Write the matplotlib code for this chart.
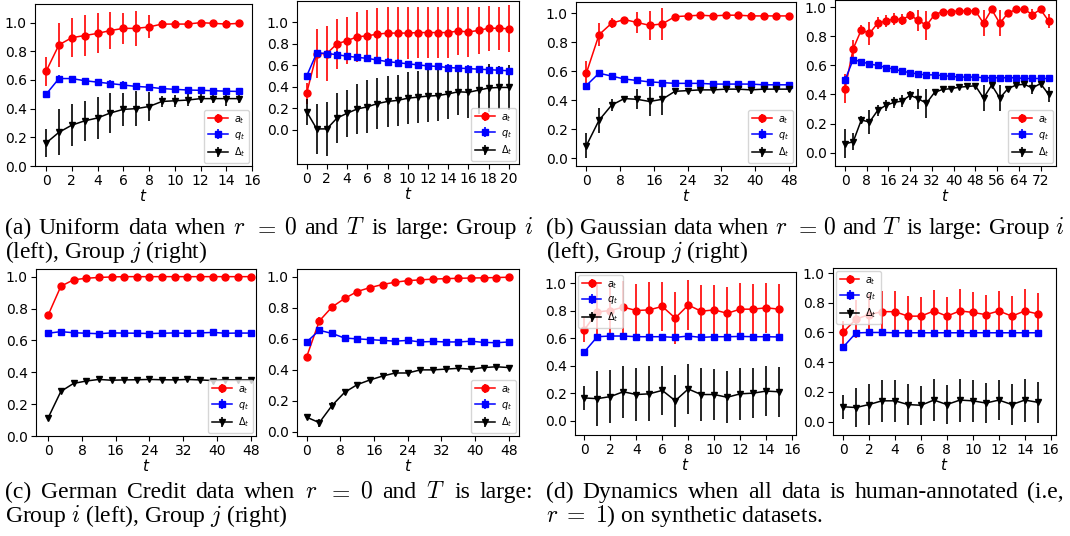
import matplotlib
matplotlib.use("Agg")
import matplotlib.pyplot as plt
import numpy as np

W, H = 1070, 536

# ---- (a) uniform data, r = 0 ----
unif_i_t = list(range(16))
unif_i_a = [0.66, 0.845, 0.895, 0.91, 0.925, 0.945, 0.96, 0.96, 0.97, 0.99, 0.99, 0.99, 1.0, 0.995, 0.99, 0.995]
unif_i_a_err = [0.1, 0.155, 0.135, 0.14, 0.14, 0.13, 0.11, 0.12, 0.08, 0.03, 0.03, 0.03, 0.01, 0.01, 0.03, 0.01]
unif_i_q = [0.5, 0.61, 0.61, 0.595, 0.585, 0.575, 0.565, 0.555, 0.55, 0.54, 0.535, 0.53, 0.528, 0.525, 0.522, 0.52]
unif_i_q_err = [0.0, 0.025, 0.02, 0.02, 0.02, 0.025, 0.025, 0.025, 0.02, 0.02, 0.02, 0.02, 0.02, 0.02, 0.02, 0.02]
unif_i_d = [0.16, 0.235, 0.285, 0.315, 0.335, 0.37, 0.395, 0.40, 0.415, 0.45, 0.455, 0.46, 0.47, 0.47, 0.47, 0.47]
unif_i_d_err = [0.1, 0.16, 0.145, 0.14, 0.145, 0.14, 0.115, 0.12, 0.1, 0.04, 0.04, 0.04, 0.03, 0.03, 0.05, 0.03]

unif_j_t = list(range(21))
unif_j_a = [0.34, 0.71, 0.71, 0.80, 0.83, 0.865, 0.875, 0.89, 0.90, 0.90, 0.90, 0.905, 0.905, 0.905, 0.905,
            0.92, 0.91, 0.925, 0.945, 0.945, 0.94]
unif_j_a_err = [0.1, 0.23, 0.255, 0.23, 0.22, 0.23, 0.24, 0.245, 0.24, 0.24, 0.24, 0.24, 0.235, 0.24, 0.24,
                0.22, 0.23, 0.22, 0.21, 0.2, 0.22]
unif_j_q = [0.50, 0.715, 0.71, 0.70, 0.685, 0.675, 0.665, 0.65, 0.635, 0.625, 0.615, 0.605, 0.595, 0.59, 0.58,
            0.575, 0.57, 0.565, 0.56, 0.555, 0.55]
unif_j_q_err = [0.0, 0.03, 0.03, 0.03, 0.03, 0.03, 0.03, 0.03, 0.03, 0.03, 0.03, 0.03, 0.03, 0.03, 0.03,
                0.03, 0.03, 0.03, 0.03, 0.03, 0.03]
unif_j_d = [0.17, 0.01, 0.01, 0.11, 0.155, 0.195, 0.215, 0.245, 0.265, 0.275, 0.295, 0.305, 0.315, 0.32, 0.335,
            0.355, 0.35, 0.37, 0.39, 0.395, 0.395]
unif_j_d_err = [0.12, 0.23, 0.25, 0.23, 0.22, 0.23, 0.245, 0.24, 0.24, 0.24, 0.24, 0.24, 0.24, 0.24, 0.235,
                0.22, 0.24, 0.22, 0.22, 0.2, 0.21]

# ---- (b) gaussian data, r = 0 ----
gauss_i_t = list(range(0, 49, 3))
gauss_i_a = [0.585, 0.85, 0.93, 0.955, 0.935, 0.915, 0.925, 0.975, 0.98, 0.985, 0.98, 0.985, 0.985, 0.98, 0.98, 0.98, 0.98]
gauss_i_a_err = [0.085, 0.08, 0.035, 0.015, 0.07, 0.1, 0.11, 0.015, 0.015, 0.01, 0.015, 0.01, 0.01, 0.03, 0.02, 0.015, 0.02]
gauss_i_q = [0.50, 0.585, 0.565, 0.545, 0.535, 0.525, 0.52, 0.515, 0.515, 0.515, 0.51, 0.51, 0.51, 0.51, 0.505, 0.505, 0.505]
gauss_i_q_err = [0.0, 0.015, 0.015, 0.01, 0.01, 0.01, 0.01, 0.01, 0.01, 0.01, 0.01, 0.01, 0.01, 0.01, 0.01, 0.01, 0.01]
gauss_i_d = [0.085, 0.26, 0.365, 0.41, 0.405, 0.39, 0.405, 0.46, 0.465, 0.47, 0.47, 0.475, 0.475, 0.47, 0.475, 0.475, 0.475]
gauss_i_d_err = [0.085, 0.085, 0.04, 0.02, 0.07, 0.1, 0.11, 0.02, 0.015, 0.015, 0.015, 0.015, 0.015, 0.03, 0.02, 0.015, 0.02]

gauss_j_t = list(range(0, 76, 3))
gauss_j_a = [0.44, 0.715, 0.845, 0.82, 0.89, 0.905, 0.92, 0.915, 0.945, 0.91, 0.875, 0.95, 0.97, 0.97, 0.975,
             0.975, 0.975, 0.89, 0.985, 0.89, 0.96, 0.985, 0.985, 0.95, 0.985, 0.905]
gauss_j_a_err = [0.1, 0.06, 0.03, 0.08, 0.04, 0.04, 0.04, 0.04, 0.03, 0.07, 0.1, 0.02, 0.015, 0.015, 0.01,
                 0.01, 0.01, 0.09, 0.01, 0.09, 0.02, 0.01, 0.01, 0.04, 0.01, 0.05]
gauss_j_q = [0.50, 0.64, 0.625, 0.61, 0.60, 0.585, 0.575, 0.56, 0.55, 0.54, 0.535, 0.535, 0.53, 0.525, 0.52,
             0.52, 0.52, 0.515, 0.515, 0.515, 0.515, 0.515, 0.51, 0.51, 0.51, 0.51]
gauss_j_q_err = [0.03, 0.02, 0.015, 0.015, 0.02, 0.02, 0.02, 0.02, 0.02, 0.015, 0.015, 0.01, 0.01, 0.01, 0.01,
                 0.01, 0.01, 0.01, 0.01, 0.01, 0.01, 0.01, 0.01, 0.01, 0.01, 0.01]
gauss_j_d = [0.06, 0.075, 0.225, 0.21, 0.29, 0.325, 0.345, 0.355, 0.395, 0.37, 0.34, 0.415, 0.435, 0.44, 0.45,
             0.455, 0.46, 0.375, 0.465, 0.375, 0.44, 0.465, 0.47, 0.445, 0.475, 0.40]
gauss_j_d_err = [0.1, 0.06, 0.03, 0.08, 0.04, 0.04, 0.04, 0.04, 0.03, 0.07, 0.1, 0.02, 0.015, 0.015, 0.01,
                 0.01, 0.01, 0.09, 0.01, 0.09, 0.02, 0.01, 0.015, 0.04, 0.015, 0.05]

# ---- (c) German credit, r = 0 ----
german_i_t = list(range(0, 49, 3))
german_i_a = [0.76, 0.94, 0.98, 0.99, 0.995, 0.998, 1.0, 1.0, 1.0, 1.0, 1.0, 1.0, 1.0, 1.0, 1.0, 1.0, 1.0]
german_i_a_err = [0.005, 0.008, 0.006, 0.005, 0.004, 0.003, 0.002, 0.002, 0.002, 0.002, 0.002, 0.002, 0.002, 0.002, 0.002, 0.002, 0.002]
german_i_q = [0.645, 0.655, 0.648, 0.645, 0.642, 0.647, 0.646, 0.645, 0.643, 0.645, 0.647, 0.644, 0.647, 0.65, 0.645, 0.646, 0.646]
german_i_q_err = [0.006, 0.008, 0.008, 0.008, 0.008, 0.008, 0.008, 0.008, 0.008, 0.008, 0.008, 0.008, 0.008, 0.008, 0.008, 0.008, 0.008]
german_i_d = [0.115, 0.28, 0.33, 0.345, 0.355, 0.35, 0.352, 0.353, 0.355, 0.353, 0.352, 0.355, 0.352, 0.348, 0.353, 0.352, 0.352]
german_i_d_err = [0.006, 0.008, 0.008, 0.008, 0.008, 0.008, 0.008, 0.008, 0.008, 0.008, 0.008, 0.008, 0.008, 0.008, 0.008, 0.008, 0.008]

german_j_t = list(range(0, 49, 3))
german_j_a = [0.485, 0.715, 0.805, 0.86, 0.905, 0.93, 0.95, 0.965, 0.975, 0.98, 0.985, 0.988, 0.99, 0.992, 0.993, 0.995, 0.997]
german_j_a_err = [0.01, 0.025, 0.02, 0.02, 0.015, 0.012, 0.01, 0.01, 0.008, 0.008, 0.006, 0.006, 0.005, 0.005, 0.005, 0.005, 0.005]
german_j_q = [0.58, 0.655, 0.635, 0.605, 0.60, 0.595, 0.59, 0.585, 0.59, 0.58, 0.583, 0.58, 0.58, 0.585, 0.577, 0.575, 0.58]
german_j_q_err = [0.008, 0.012, 0.01, 0.01, 0.01, 0.01, 0.01, 0.01, 0.01, 0.01, 0.01, 0.01, 0.01, 0.01, 0.01, 0.01, 0.01]
german_j_d = [0.095, 0.06, 0.17, 0.255, 0.305, 0.335, 0.36, 0.38, 0.38, 0.40, 0.40, 0.405, 0.41, 0.405, 0.415, 0.42, 0.415]
german_j_d_err = [0.01, 0.025, 0.02, 0.02, 0.015, 0.012, 0.01, 0.01, 0.01, 0.01, 0.01, 0.01, 0.01, 0.01, 0.01, 0.01, 0.01]

# ---- (d) all human-annotated, r = 1 ----
human_u_t = list(range(16))
human_u_a = [0.66, 0.79, 0.80, 0.825, 0.80, 0.805, 0.83, 0.745, 0.84, 0.795, 0.805, 0.78, 0.81, 0.81, 0.82, 0.81]
human_u_a_err = [0.09, 0.2, 0.2, 0.19, 0.19, 0.2, 0.18, 0.19, 0.18, 0.19, 0.18, 0.19, 0.19, 0.18, 0.18, 0.18]
human_u_q = [0.50, 0.61, 0.615, 0.615, 0.61, 0.61, 0.61, 0.605, 0.615, 0.605, 0.61, 0.61, 0.612, 0.61, 0.61, 0.608]
human_u_q_err = [0.0, 0.015, 0.015, 0.015, 0.015, 0.015, 0.015, 0.015, 0.015, 0.015, 0.015, 0.015, 0.015, 0.015, 0.015, 0.015]
human_u_d = [0.165, 0.16, 0.175, 0.21, 0.19, 0.195, 0.22, 0.145, 0.23, 0.19, 0.19, 0.17, 0.195, 0.20, 0.215, 0.21]
human_u_d_err = [0.09, 0.2, 0.195, 0.19, 0.19, 0.2, 0.18, 0.19, 0.18, 0.19, 0.185, 0.19, 0.19, 0.18, 0.18, 0.18]

human_g_t = list(range(16))
human_g_a = [0.60, 0.69, 0.72, 0.74, 0.74, 0.71, 0.71, 0.745, 0.71, 0.745, 0.735, 0.72, 0.745, 0.71, 0.745, 0.725]
human_g_a_err = [0.08, 0.13, 0.14, 0.14, 0.14, 0.135, 0.13, 0.14, 0.13, 0.145, 0.14, 0.135, 0.135, 0.135, 0.145, 0.14]
human_g_q = [0.50, 0.597, 0.60, 0.60, 0.598, 0.598, 0.598, 0.598, 0.598, 0.598, 0.598, 0.598, 0.598, 0.598, 0.598, 0.598]
human_g_q_err = [0.0, 0.01, 0.01, 0.01, 0.01, 0.01, 0.01, 0.01, 0.01, 0.01, 0.01, 0.01, 0.01, 0.01, 0.01, 0.01]
human_g_d = [0.10, 0.095, 0.115, 0.14, 0.14, 0.115, 0.11, 0.145, 0.115, 0.145, 0.14, 0.125, 0.145, 0.115, 0.145, 0.13]
human_g_d_err = [0.08, 0.13, 0.14, 0.14, 0.14, 0.135, 0.13, 0.14, 0.13, 0.145, 0.14, 0.135, 0.135, 0.135, 0.145, 0.14]

series_labels = [r"$a_t$", r"$q_t$", r"$\Delta_t$"]
series_styles = [("red", "o"), ("blue", "s"), ("black", "v")]


def px_axes(fig, x0, y0, x1, y1):
    return fig.add_axes([x0 / W, 1 - y1 / H, (x1 - x0) / W, (y1 - y0) / H])


def draw_panel(ax, t, curves, xticks, xlim, ylim, legend_loc):
    for (m, e), lab, (c, mk) in zip(curves, series_labels, series_styles):
        ax.errorbar(t, m, yerr=e, fmt="-" + mk, color=c, ecolor=c, markersize=5,
                    lw=1.1, elinewidth=1.2, label=lab)
    ax.set_xticks(xticks)
    ax.set_yticks([0.0, 0.2, 0.4, 0.6, 0.8, 1.0])
    ax.set_xlim(*xlim)
    ax.set_ylim(*ylim)
    ax.tick_params(labelsize=10, pad=2.5)
    ax.set_xlabel(r"$t$", fontsize=11, labelpad=0)
    ax.legend(loc=legend_loc, fontsize=7, borderpad=0.4, labelspacing=0.4,
              handlelength=2.0, handletextpad=0.6, borderaxespad=0.3)


fig = plt.figure(figsize=(W / 100, H / 100), dpi=100)

ax = px_axes(fig, 35, 4, 252, 166)
draw_panel(ax, unif_i_t, [(unif_i_a, unif_i_a_err), (unif_i_q, unif_i_q_err), (unif_i_d, unif_i_d_err)],
           range(0, 17, 2), (-0.86, 16), (0, 1.13), "lower right")

ax = px_axes(fig, 297, 1, 519, 164)
draw_panel(ax, unif_j_t, [(unif_j_a, unif_j_a_err), (unif_j_q, unif_j_q_err), (unif_j_d, unif_j_d_err)],
           range(0, 21, 2), (-0.95, 21), (-0.316, 1.198), "lower right")

ax = px_axes(fig, 576, 2, 796, 166)
draw_panel(ax, gauss_i_t, [(gauss_i_a, gauss_i_a_err), (gauss_i_q, gauss_i_q_err), (gauss_i_d, gauss_i_d_err)],
           range(0, 49, 8), (-2.45, 49.7), (-0.055, 1.076), "lower right")

ax = px_axes(fig, 835, 0, 1056, 166)
draw_panel(ax, gauss_j_t, [(gauss_j_a, gauss_j_a_err), (gauss_j_q, gauss_j_q_err), (gauss_j_d, gauss_j_d_err)],
           range(0, 73, 8), (-3.7, 77.7), (-0.092, 1.05), "lower right")

ax = px_axes(fig, 36, 269, 256, 436)
draw_panel(ax, german_i_t, [(german_i_a, german_i_a_err), (german_i_q, german_i_q_err), (german_i_d, german_i_d_err)],
           range(0, 49, 8), (-2.9, 49.25), (0, 1.048), "lower right")

ax = px_axes(fig, 297, 269, 519, 436)
draw_panel(ax, german_j_t, [(german_j_a, german_j_a_err), (german_j_q, german_j_q_err), (german_j_d, german_j_d_err)],
           range(0, 49, 8), (-2.3, 50.4), (-0.026, 1.05), "lower right")

ax = px_axes(fig, 575, 272, 796, 435)
draw_panel(ax, human_u_t, [(human_u_a, human_u_a_err), (human_u_q, human_u_q_err), (human_u_d, human_u_d_err)],
           range(0, 17, 2), (-0.72, 16.3), (-0.104, 1.08), "upper left")

ax = px_axes(fig, 833, 268, 1056, 435)
draw_panel(ax, human_g_t, [(human_g_a, human_g_a_err), (human_g_q, human_g_q_err), (human_g_d, human_g_d_err)],
           range(0, 17, 2), (-0.77, 16.4), (-0.09, 1.034), "upper left")

# ---- captions ----
cap_kw = dict(fontsize=17, family="Liberation Serif", math_fontfamily="cm", va="baseline")
renderer = fig.canvas.get_renderer()


def justified(words, x0, x1, y):
    texts = [fig.text(0, 1 - y / H, w, **cap_kw) for w in words]
    widths = [t.get_window_extent(renderer).width for t in texts]
    gap = (x1 - x0 - sum(widths)) / (len(words) - 1)
    x = x0
    for t, w in zip(texts, widths):
        t.set_x(x / W)
        x += w + gap


def plain(s, x0, y):
    fig.text(x0 / W, 1 - y / H, s, **cap_kw)


justified(["(a)", "Uniform", "data", "when", "$r$", "$=$", "$0$", "and", "$T$", "is", "large:", "Group", "$i$"],
          5, 533, 234)
plain("(left), Group $j$ (right)", 5, 258)
justified(["(b)", "Gaussian", "data", "when", "$r$", "$=$", "$0$", "and", "$T$", "is", "large:", "Group", "$i$"],
          546, 1064, 234)
plain("(left), Group $j$ (right)", 546, 258)
justified(["(c)", "German", "Credit", "data", "when", "$r$", "$=$", "$0$", "and", "$T$", "is", "large:"],
          5, 533, 498)
plain("Group $i$ (left), Group $j$ (right)", 5, 522)
justified(["(d)", "Dynamics", "when", "all", "data", "is", "human-annotated", "(i.e,"],
          546, 1064, 498)
plain("$r$ $=$ $1$) on synthetic datasets.", 546, 522)

fig.savefig("out.png", dpi=100)
